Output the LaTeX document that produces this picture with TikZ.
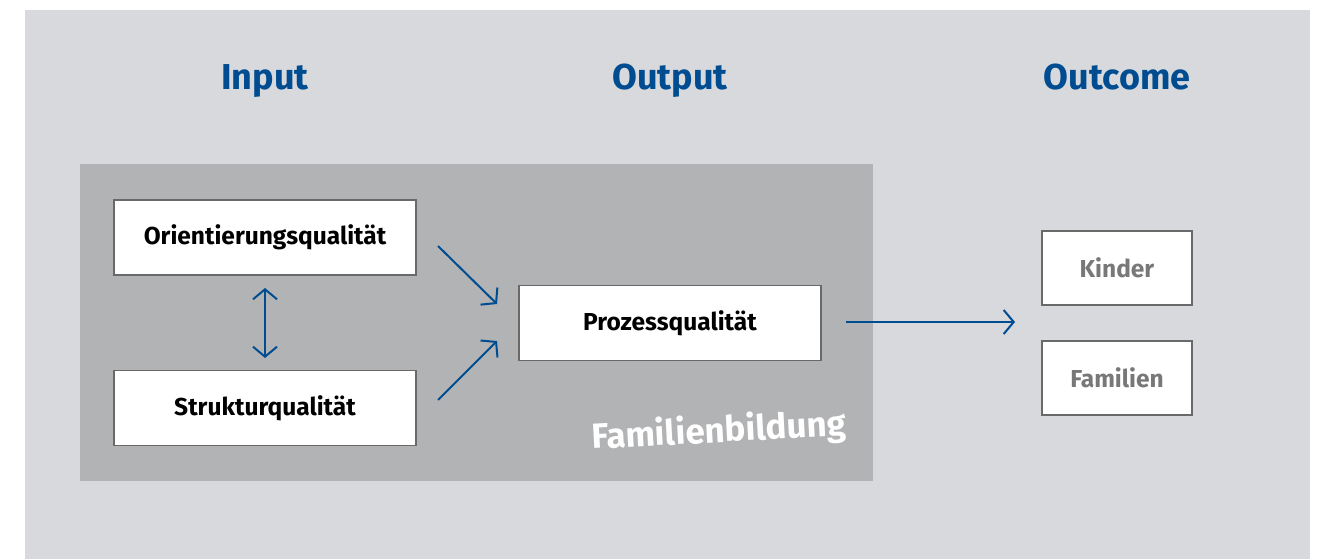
\documentclass[tikz,border=0pt]{standalone}
\usepackage{fontspec}
\setmainfont{Fira Sans}
\usetikzlibrary{arrows.meta}
\definecolor{bglight}{RGB}{216,217,220}
\definecolor{bgdark}{RGB}{178,179,181}
\definecolor{myblue}{RGB}{0,76,145}
\definecolor{boxborder}{RGB}{105,105,105}
\definecolor{greytext}{RGB}{120,120,120}
\begin{document}
\begin{tikzpicture}[x=1pt,y=-1pt,
  qbox/.style={draw=boxborder,line width=1.2pt,fill=white,minimum width=302pt,minimum height=75pt,inner sep=0pt,font=\fontsize{24.5}{28}\selectfont\bfseries},
  obox/.style={draw=boxborder,line width=1.2pt,fill=white,minimum width=150pt,minimum height=74pt,inner sep=0pt,text=greytext,font=\fontsize{24.5}{28}\selectfont\bfseries},
  title/.style={text=myblue,anchor=base,font=\fontsize{36}{42}\selectfont\bfseries},
  arr/.style={draw=myblue,line width=2pt,-{Straight Barb[length=10pt,width=24pt,line width=2pt]}},
  darr/.style={draw=myblue,line width=2pt,{Straight Barb[length=10pt,width=24pt,line width=2pt]}-{Straight Barb[length=10pt,width=24pt,line width=2pt]}}]
\useasboundingbox (0,0) rectangle (1322,559);
\fill[white] (0,0) rectangle (1322,559);
\fill[bglight] (25,10) rectangle (1310,559);
\fill[bgdark] (80,164) rectangle (873,481);
\node[title] (tin) at (265,90) {Input};
\node[title] (tout) at (670,90) {Output};
\node[title] (tres) at (1117,90) {Outcome};
\node[qbox] (ori) at (265,237.5) {Orientierungsqualität};
\node[qbox] (str) at (265,408) {Strukturqualität};
\node[qbox] (pro) at (670,323) {Prozessqualität};
\node[obox] (kin) at (1117,268) {Kinder};
\node[obox] (fam) at (1117,378) {Familien};
\node[text=white,rotate=3,font=\fontsize{35}{40}\selectfont\bfseries] (fb) at (719,432) {Familienbildung};
\coordinate (d1) at (265,288);
\coordinate (d2) at (265,358);
\draw[darr] (d1) -- (d2);
\coordinate (a1s) at (438,246);
\coordinate (a1e) at (497,304);
\draw[arr] (a1s) -- (a1e);
\coordinate (a2s) at (438,400);
\coordinate (a2e) at (497,341);
\draw[arr] (a2s) -- (a2e);
\coordinate (a3s) at (846,322);
\coordinate (a3e) at (1015,322);
\draw[arr] (a3s) -- (a3e);
\end{tikzpicture}
\end{document}
